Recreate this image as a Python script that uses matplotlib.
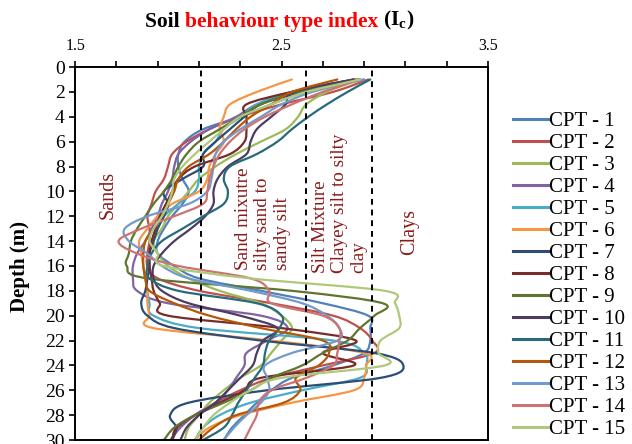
import numpy as np
import matplotlib.pyplot as plt
from matplotlib.path import Path
from matplotlib.patches import PathPatch
from matplotlib.lines import Line2D

plt.rcParams['font.family'] = ['Liberation Serif', 'DejaVu Serif']
plt.rcParams['mathtext.fontset'] = 'custom'
plt.rcParams['mathtext.rm'] = 'Liberation Serif'
plt.rcParams['mathtext.bf'] = 'Liberation Serif:bold'

# depth (m) and Ic profiles for each CPT
depth = np.arange(1, 31)

cpt1 = [2.90, 2.62, 2.45, 2.30, 2.12, 2.03, 2.00, 2.00, 2.02, 2.05, 2.02, 1.97, 1.93, 1.90, 1.90,
        1.98, 2.10, 2.40, 2.70, 2.92, 2.93, 2.93, 2.90, 2.75, 2.55, 2.45, 2.38, 2.32, 2.26, 2.22]
cpt2 = [2.92, 2.75, 2.50, 2.30, 2.15, 2.04, 1.97, 1.95, 1.93, 1.89, 1.87, 1.85, 1.86, 1.86, 1.85,
        1.85, 1.90, 2.10, 2.45, 2.75, 2.88, 2.94, 2.95, 2.70, 2.45, 2.30, 2.18, 2.08, 2.00, 1.97]
cpt3 = [2.88, 2.72, 2.62, 2.58, 2.52, 2.40, 2.28, 2.18, 2.10, 2.05, 2.00, 1.95, 1.92, 1.88, 1.90,
        1.95, 2.05, 2.20, 2.40, 2.50, 2.55, 2.50, 2.45, 2.40, 2.30, 2.22, 2.15, 2.10, 2.05, 2.03]
cpt4 = [2.85, 2.55, 2.38, 2.28, 2.15, 2.06, 2.00, 1.98, 1.97, 1.95, 1.92, 1.90, 1.87, 1.84, 1.80,
        1.78, 1.78, 1.80, 1.95, 2.40, 2.53, 2.43, 2.33, 2.32, 2.28, 2.24, 2.18, 2.08, 2.01, 1.96]
cpt5 = [2.85, 2.55, 2.38, 2.30, 2.22, 2.18, 2.12, 2.10, 2.10, 2.08, 2.00, 1.93, 1.88, 1.84, 1.83,
        1.83, 1.84, 1.85, 1.86, 1.88, 2.10, 2.75, 2.90, 2.91, 2.88, 2.60, 2.35, 2.20, 2.12, 2.08]
cpt6 = [2.55, 2.38, 2.25, 2.22, 2.20, 2.22, 2.18, 2.15, 2.14, 2.10, 1.97, 1.90, 1.85, 1.81, 1.82,
        1.83, 1.84, 1.85, 1.85, 1.86, 1.88, 2.45, 2.90, 2.91, 2.90, 2.85, 2.55, 2.30, 2.15, 2.08]
cpt7 = [2.88, 2.60, 2.40, 2.32, 2.25, 2.18, 2.12, 2.12, 2.02, 1.93, 1.95, 1.93, 1.90, 1.88, 1.86,
        1.86, 1.85, 1.84, 1.82, 1.85, 1.98, 2.40, 2.95, 3.09, 2.98, 2.43, 2.05, 1.96, 1.99, 1.97]
cpt8 = [2.86, 2.55, 2.33, 2.33, 2.33, 2.32, 2.25, 2.08, 2.00, 1.97, 1.94, 1.91, 1.89, 1.87, 1.86,
        1.86, 1.87, 1.88, 1.91, 1.95, 2.50, 2.86, 2.70, 2.85, 2.40, 2.32, 2.20, 2.08, 1.99, 1.97]
cpt9 = [2.87, 2.58, 2.40, 2.30, 2.20, 2.10, 2.04, 2.00, 1.97, 1.93, 1.88, 1.84, 1.80, 1.77, 1.76,
        1.75, 1.85, 2.55, 2.99, 2.95, 2.88, 2.82, 2.70, 2.60, 2.45, 2.35, 2.22, 2.08, 1.98, 1.93]
cpt10 = [2.85, 2.56, 2.52, 2.45, 2.38, 2.35, 2.33, 2.24, 2.19, 2.17, 2.17, 2.13, 2.06, 1.98, 1.92,
         1.88, 1.88, 1.92, 2.05, 2.30, 2.48, 2.41, 2.38, 2.36, 2.30, 2.24, 2.18, 2.10, 2.04, 2.01]
cpt11 = [2.93, 2.82, 2.72, 2.63, 2.55, 2.48, 2.38, 2.25, 2.22, 2.24, 2.22, 2.12, 2.02, 1.92, 1.87,
         1.85, 1.86, 2.00, 2.38, 2.50, 2.49, 2.44, 2.42, 2.41, 2.37, 2.33, 2.29, 2.26, 2.22, 2.12]
cpt12 = [2.77, 2.55, 2.45, 2.35, 2.28, 2.22, 2.15, 2.05, 2.00, 1.98, 1.95, 1.92, 1.88, 1.84, 1.83,
         1.83, 1.84, 1.86, 1.98, 2.15, 2.40, 2.70, 2.73, 2.68, 2.57, 2.59, 2.51, 2.28, 2.17, 2.10]
cpt13 = [2.90, 2.65, 2.50, 2.40, 2.30, 2.22, 2.18, 2.17, 2.16, 2.14, 2.05, 1.85, 1.74, 1.76, 1.85,
         1.92, 2.05, 2.35, 2.60, 2.72, 2.78, 2.77, 2.55, 2.42, 2.43, 2.44, 2.40, 2.33, 2.27, 2.22]
cpt14 = [2.88, 2.70, 2.55, 2.42, 2.32, 2.25, 2.20, 2.17, 2.15, 2.14, 2.12, 1.98, 1.82, 1.71, 1.80,
         2.00, 2.35, 2.44, 2.45, 2.70, 2.78, 2.78, 2.77, 2.75, 2.62, 2.45, 2.39, 2.38, 2.35, 2.32]
cpt15 = [2.88, 2.62, 2.45, 2.30, 2.22, 2.15, 2.08, 2.02, 1.98, 1.97, 1.95, 1.92, 1.88, 1.86, 1.90,
         1.93, 2.35, 3.00, 3.05, 3.07, 3.07, 2.98, 2.97, 3.00, 2.50, 2.35, 2.25, 2.17, 2.12, 2.08]

profiles = [cpt1, cpt2, cpt3, cpt4, cpt5, cpt6, cpt7, cpt8, cpt9, cpt10,
            cpt11, cpt12, cpt13, cpt14, cpt15]
labels = ['CPT - %d' % (i + 1) for i in range(15)]
colors = ['#4F81BD', '#C0504D', '#9BBB59', '#8064A2', '#4BACC6', '#F79646', '#2C4D75',
          '#772C2A', '#5F7530', '#4D3B62', '#276A7C', '#B65708', '#729ACA', '#CD7371', '#AFC97A']

# zone boundaries
bounds = [2.11, 2.62, 2.94]


def smooth_path(xs, ys):
    # bezier path through every point (spreadsheet style smoothed line)
    pts = np.column_stack([xs, ys]).astype(float)
    n = len(pts)
    verts = [pts[0]]
    codes = [Path.MOVETO]
    for i in range(n - 1):
        p0 = pts[max(i - 1, 0)]
        p1 = pts[i]
        p2 = pts[i + 1]
        p3 = pts[min(i + 2, n - 1)]
        verts += [p1 + (p2 - p0) / 6.0, p2 - (p3 - p1) / 6.0, p2]
        codes += [Path.CURVE4] * 3
    return Path(verts, codes)


fig = plt.figure(figsize=(6.32, 4.44), dpi=100)
ax = fig.add_axes([0.119, 0.009, 0.653, 0.840])

handles = []
for p, lab, c in zip(profiles, labels, colors):
    ax.add_patch(PathPatch(smooth_path(p, depth), fill=False, edgecolor=c, lw=1.6,
                           capstyle='round', joinstyle='round'))
    handles.append(Line2D([], [], color=c, lw=2.2, label=lab))

for b in bounds:
    ax.axvline(b, color='black', lw=1.4, linestyle=(0, (3, 2.5)))

ax.set_xlim(1.5, 3.5)
ax.set_ylim(30, 0)
ax.xaxis.tick_top()
ax.set_xticks(np.round(np.arange(1.5, 3.51, 0.2), 1))
ax.set_xticklabels([])
for v in [1.5, 2.5, 3.5]:
    ax.text(v, 1.035, '%.1f' % v, transform=ax.get_xaxis_transform(),
            ha='center', va='bottom', fontsize=11.5)
ax.set_yticks(np.arange(0, 31, 2))
ax.tick_params(axis='y', labelsize=14, direction='out', length=4, width=1.2)
ax.tick_params(axis='x', direction='out', length=4, width=1.2, top=True, bottom=False)
for s in ax.spines.values():
    s.set_linewidth(1.4)

# zone names
zc = '#8B1A1A'
ax.text(1.66, 10.3, 'Sands', rotation=90, color=zc, fontsize=14.5, ha='center', va='center')
ax.text(2.41, 16.3, 'Sand mixutre\nsilty sand to\nsandy silt', rotation=90, color=zc,
        fontsize=13.8, ha='center', va='bottom', multialignment='left', linespacing=1.17)
ax.text(2.78, 16.6, 'Silt Mixture\nClayey silt to silty\nclay', rotation=90, color=zc,
        fontsize=13.8, ha='center', va='bottom', multialignment='left', linespacing=1.17)
ax.text(3.12, 13.3, 'Clays', rotation=90, color=zc, fontsize=14.5, ha='center', va='center')

# title in three colours
t1 = fig.text(0.229, 1 - 22 / 444, 'Soil ', fontsize=15.5, fontweight='bold', ha='left', va='center')
t2 = ax.annotate('behaviour type index ', xycoords=t1, xy=(1, 0), va='bottom', ha='left',
                 fontsize=15.5, fontweight='bold', color='#FF0000')
ax.annotate(r'($\mathbf{I}_\mathbf{c}$)', xycoords=t2, xy=(1, 0), va='bottom', ha='left',
            fontsize=15.5, fontweight='bold', color='black')

fig.text(20 / 632, 1 - 266 / 444, 'Depth (m)', rotation=90, fontsize=15, fontweight='bold',
         ha='center', va='center')

ax.legend(handles=handles, loc='center left', bbox_to_anchor=(1.041, 0.441), frameon=False,
          fontsize=15, handlelength=1.65, handletextpad=0.05, labelspacing=0.115, borderaxespad=0)

fig.savefig('out.png', dpi=100)
